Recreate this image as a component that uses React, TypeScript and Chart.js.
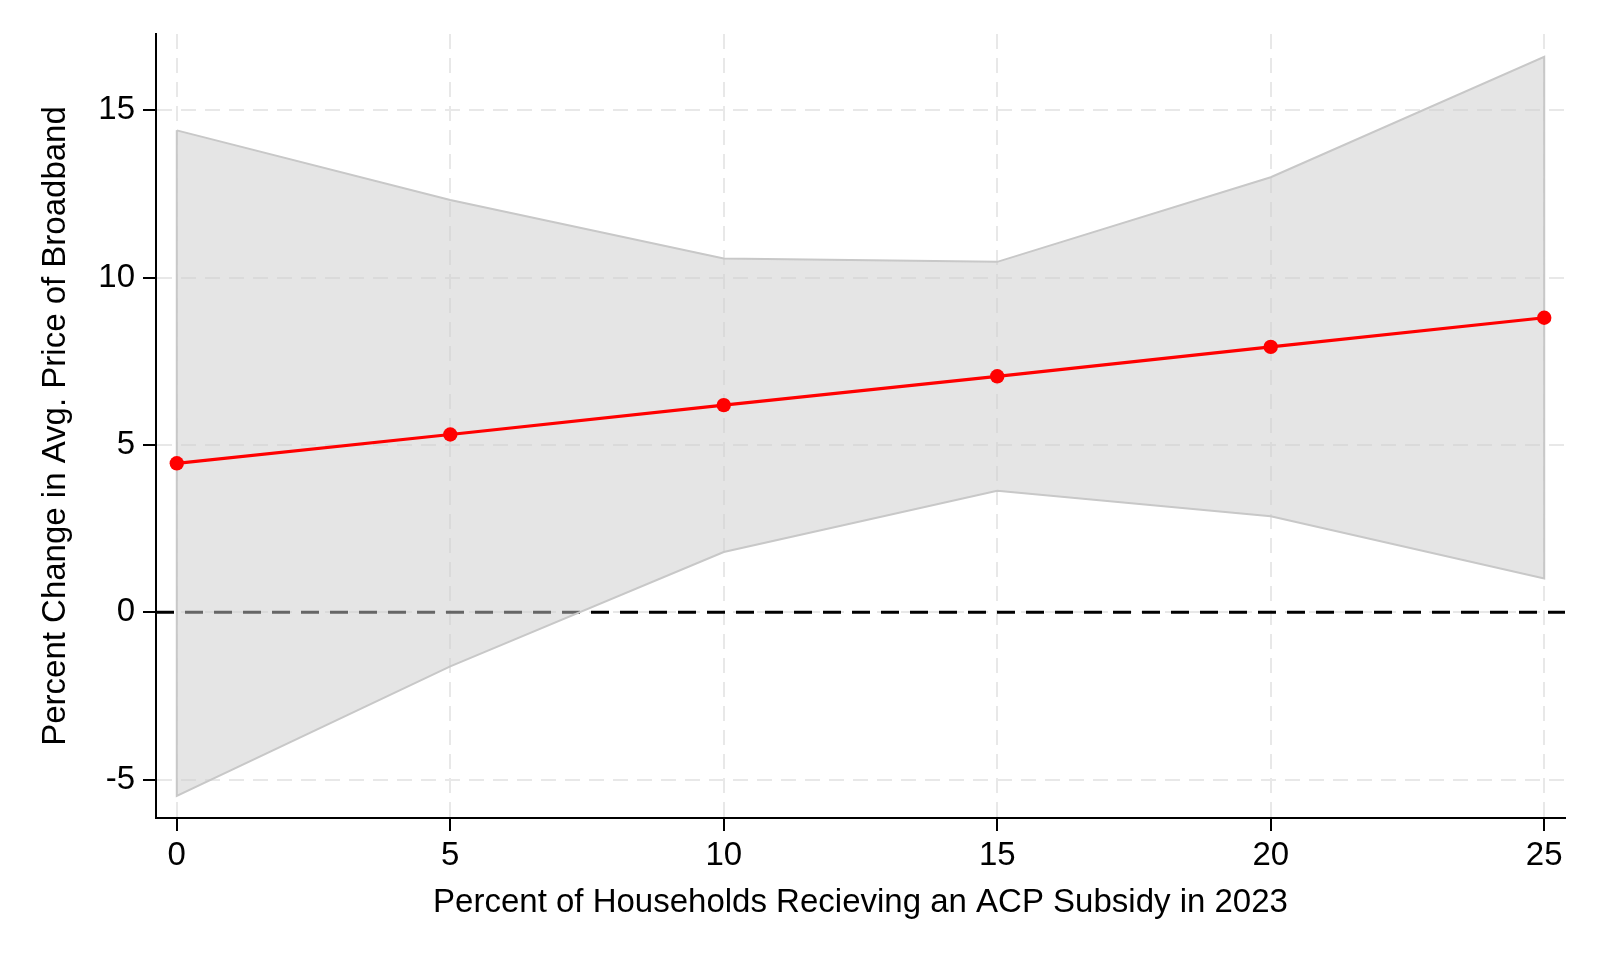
import React, { useEffect, useRef } from "react";
import { Chart, registerables } from "chart.js";

Chart.register(...registerables);

// ---- data ----
const SUBSIDY_PCT = [0, 5, 10, 15, 20, 25];
const PRICE_CHANGE = [4.45, 5.31, 6.19, 7.05, 7.93, 8.8];
const CI_UPPER = [14.4, 12.32, 10.57, 10.47, 13.0, 16.6];
const CI_LOWER = [-5.49, -1.62, 1.8, 3.63, 2.87, 1.01];
const REFERENCE_LINE = 0;

const X_TICKS = [0, 5, 10, 15, 20, 25];
const Y_TICKS = [-5, 0, 5, 10, 15];
const X_RANGE = [-0.38, 25.38];
const Y_RANGE = [-6.15, 17.28];

const X_TITLE = "Percent of Households Recieving an ACP Subsidy in 2023";
const Y_TITLE = "Percent Change in Avg. Price of Broadband";

const FONT = "'Liberation Sans', Arial, Helvetica, sans-serif";

export default function App() {
  const canvasRef = useRef<HTMLCanvasElement | null>(null);

  useEffect(() => {
    const canvas = canvasRef.current;
    if (!canvas) return;

    const pts = (ys: number[]) => SUBSIDY_PCT.map((x, i) => ({ x, y: ys[i] }));
    const upper = pts(CI_UPPER);
    const lower = pts(CI_LOWER);
    const outline = [...upper, ...lower.slice().reverse(), upper[0]];

    const gridColor = "#e8e8e8";

    const chart = new Chart(canvas, {
      type: "line",
      data: {
        datasets: [
          {
            label: "zero",
            data: [
              { x: X_RANGE[0], y: REFERENCE_LINE },
              { x: X_RANGE[1], y: REFERENCE_LINE },
            ],
            borderColor: "#000000",
            borderWidth: 3,
            borderDash: [18, 11],
            pointRadius: 0,
            fill: false,
            order: 5,
          },
          {
            label: "upper",
            data: upper,
            borderWidth: 0,
            borderColor: "rgba(0,0,0,0)",
            backgroundColor: "rgba(204,204,204,0.5)",
            pointRadius: 0,
            fill: "+1",
            order: 4,
          },
          {
            label: "lower",
            data: lower,
            borderWidth: 0,
            borderColor: "rgba(0,0,0,0)",
            pointRadius: 0,
            fill: false,
            order: 4,
          },
          {
            label: "outline",
            data: outline,
            borderColor: "#c8c8c8",
            borderWidth: 2,
            pointRadius: 0,
            fill: false,
            order: 3,
          },
          {
            label: "estimate",
            data: pts(PRICE_CHANGE),
            borderColor: "#ff0000",
            borderWidth: 3.2,
            pointRadius: 7.2,
            pointBackgroundColor: "#ff0000",
            pointBorderWidth: 0,
            fill: false,
            order: 1,
          },
        ],
      },
      options: {
        animation: false,
        responsive: false,
        devicePixelRatio: 1,
        layout: { padding: { top: 34, right: 35, bottom: 0, left: 0 } },
        plugins: {
          legend: { display: false },
          tooltip: { enabled: false },
        },
        elements: { line: { tension: 0 } },
        scales: {
          x: {
            type: "linear",
            min: X_RANGE[0],
            max: X_RANGE[1],
            afterBuildTicks: (scale: any) => {
              scale.ticks = X_TICKS.map((v) => ({ value: v }));
            },
            afterFit: (scale: any) => {
              scale.height = 142;
            },
            grid: {
              color: gridColor,
              lineWidth: 2,
              tickColor: "#000000",
              tickLength: 13,
              tickWidth: 2,
            },
            border: { display: true, color: "#000000", width: 2, dash: [15, 9] },
            ticks: {
              color: "#000000",
              font: { family: FONT, size: 33 },
              padding: 5,
              maxRotation: 0,
              autoSkip: false,
            },
            title: {
              display: true,
              text: X_TITLE,
              color: "#000000",
              font: { family: FONT, size: 33 },
              padding: { top: 0, bottom: 37 },
            },
          },
          y: {
            type: "linear",
            min: Y_RANGE[0],
            max: Y_RANGE[1],
            afterBuildTicks: (scale: any) => {
              scale.ticks = Y_TICKS.map((v) => ({ value: v }));
            },
            afterFit: (scale: any) => {
              scale.width = 156;
            },
            grid: {
              color: gridColor,
              lineWidth: 2,
              tickColor: "#000000",
              tickLength: 13,
              tickWidth: 2,
            },
            border: { display: true, color: "#000000", width: 2, dash: [15, 9] },
            ticks: {
              color: "#000000",
              font: { family: FONT, size: 33 },
              padding: 8,
              autoSkip: false,
            },
            title: {
              display: true,
              text: Y_TITLE,
              color: "#000000",
              font: { family: FONT, size: 33 },
              padding: { top: 36, bottom: 0 },
            },
          },
        },
      },
    } as any);

    return () => chart.destroy();
  }, []);

  return (
    <div
      style={{
        position: "fixed",
        left: 0,
        top: 0,
        width: 1600,
        height: 960,
        background: "#ffffff",
      }}
    >
      <canvas ref={canvasRef} width={1600} height={960} />
    </div>
  );
}
